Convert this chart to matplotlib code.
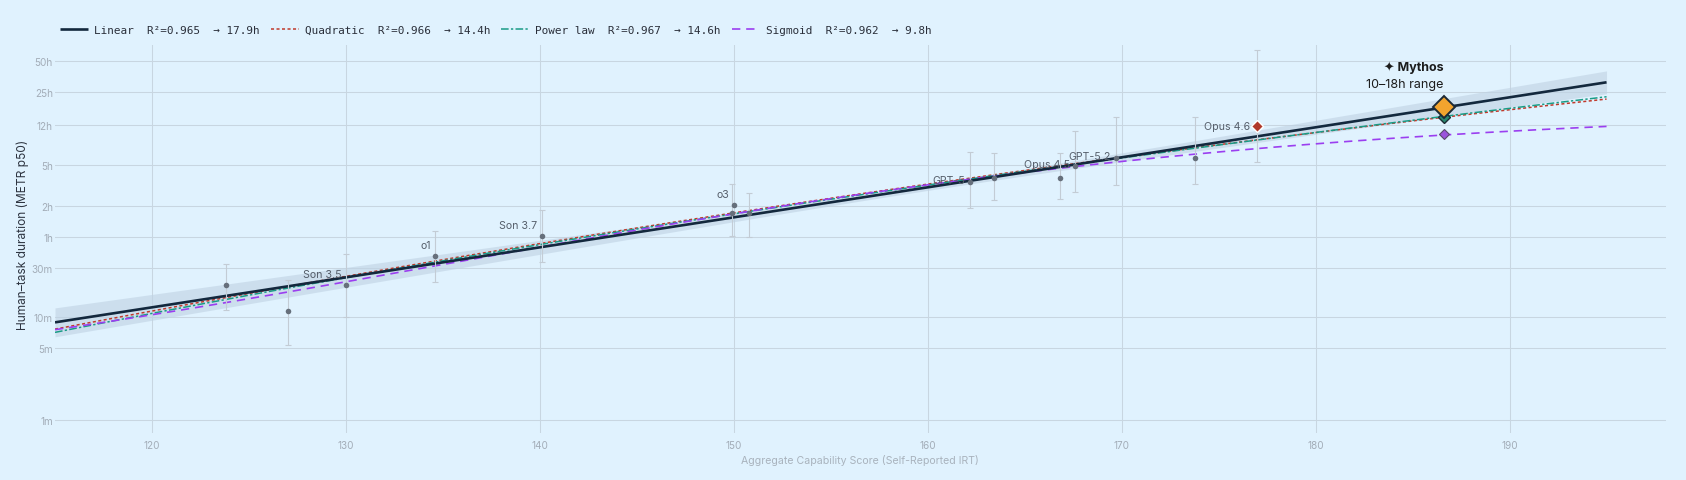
import numpy as np
import matplotlib
matplotlib.use("Agg")
import matplotlib.pyplot as plt
from matplotlib.font_manager import FontProperties

plt.rcParams['font.family'] = ['Inter', 'DejaVu Sans']

# ---------------- data ----------------
# observed models: capability score (x), METR p50 horizon in minutes, error bar lo/hi (minutes)
pt_x = [123.8, 127.0, 130.0, 134.6, 140.1, 150.0, 149.9, 150.8, 162.2, 163.4, 166.8, 167.6, 169.7, 173.8]
pt_min = [20.4, 11.5, 20.6, 39, 61, 121, 101, 101, 205, 224, 224, 292, 349, 349]
pt_lo = [11.7, 5.4, 10.0, 21.7, 33.9, np.nan, 60.5, 60, 114, 136, 138, 163, 190, 193]
pt_hi = [33, 22.8, 40.8, 67.7, 109, np.nan, 193, 158, 399, 391, 385, 638, 860, 860]
pt_label = ["", "", "Son 3.5", "o1", "Son 3.7", "o3", "", "", "GPT-5", "", "", "Opus 4.5", "GPT-5.2", ""]

# Opus 4.6 (highlighted)
opus46_x, opus46_min, opus46_lo, opus46_hi = 177.0, 713, 318, 3882
opus46_label = "Opus 4.6"

# Mythos predictions
mythos_x = 186.6
fit_names = ["Linear", "Quadratic", "Power law", "Sigmoid"]
fit_r2 = [0.965, 0.966, 0.967, 0.962]
fit_pred_h = [17.9, 14.4, 14.6, 9.8]

# fit parameters (log10 minutes)
lin_a, lin_b = 0.949, 0.02906            # log10 y = a + b (x-115)
quad_c0, quad_c1, quad_c2 = 2.151, 0.02785, -9.6e-5   # around x=155
pow_logA, pow_p = -19.652, 9.95          # y = A x^p
sig_lo, sig_hi, sig_k, sig_x0 = 0.0, 3.05, 0.0443, 135.45
ci_h0, ci_k, ci_xc = 0.03, 0.00304, 160.0
fit_x_range = (115, 195)

yticks_min = [1, 5, 10, 30, 60, 120, 300, 720, 1500, 3000]
yticks_lab = ["1m", "5m", "10m", "30m", "1h", "2h", "5h", "12h", "25h", "50h"]
xticks = [120, 130, 140, 150, 160, 170, 180, 190]

# ---------------- style ----------------
BG = "#e0f2fe"
GRID = "#c8d6e1"
TICK = "#a3adb8"
C_LIN = "#13283d"
C_QUAD = "#c0392b"
C_POW = "#1a9b86"
C_SIG = "#9b3ff0"
W, H = 1686, 481

fig = plt.figure(figsize=(W / 100, H / 100), dpi=100)
fig.patch.set_facecolor(BG)
ax = fig.add_axes([55 / W, 1 - 434 / H, (1665.7 - 55) / W, (434 - 46) / H])
ax.set_facecolor(BG)
ax.set_yscale("log")
ax.set_xlim(115, 198.05)
ax.set_ylim(0.754, 4316)

xs = np.linspace(fit_x_range[0], fit_x_range[1], 300)
lin = lin_a + lin_b * (xs - 115)
quad = quad_c0 + quad_c1 * (xs - 155) + quad_c2 * (xs - 155) ** 2
powl = pow_logA + pow_p * np.log10(xs)
sig = sig_lo + (sig_hi - sig_lo) / (1 + np.exp(-sig_k * (xs - sig_x0)))
hw = np.sqrt(ci_h0 ** 2 + (ci_k * (xs - ci_xc)) ** 2)

ax.fill_between(xs, 10 ** (lin - hw), 10 ** (lin + hw), color="#bfd2e3", alpha=0.6, lw=0, zorder=1)
h_lin, = ax.plot(xs, 10 ** lin, color=C_LIN, lw=1.9, zorder=3, solid_capstyle="butt")
h_quad, = ax.plot(xs, 10 ** quad, color=C_QUAD, lw=1.1, ls=(0, (2, 1.6)), zorder=2)
h_pow, = ax.plot(xs, 10 ** powl, color=C_POW, lw=1.1, ls=(0, (5, 1.5, 1.5, 1.5)), zorder=2)
h_sig, = ax.plot(xs, 10 ** sig, color=C_SIG, lw=1.2, ls=(0, (5, 3.5)), zorder=2)

# points with error bars
px = np.array(pt_x); pm = np.array(pt_min)
lo = np.array(pt_lo); hi = np.array(pt_hi)
ok = ~np.isnan(lo)
ax.errorbar(px[ok], pm[ok], yerr=[pm[ok] - lo[ok], hi[ok] - pm[ok]], fmt="none",
            ecolor="#c3ccd5", elinewidth=0.8, capsize=2.5, capthick=0.8, zorder=3)
ax.errorbar([opus46_x], [opus46_min], yerr=[[opus46_min - opus46_lo], [opus46_hi - opus46_min]],
            fmt="none", ecolor="#c3ccd5", elinewidth=0.8, capsize=2.5, capthick=0.8, zorder=3)
ax.plot(px, pm, "o", color="#666f7b", ms=4, mec="none", zorder=4)
ax.plot([opus46_x], [opus46_min], "D", color="#b0392b", ms=6, mec="white", mew=1, zorder=5)

top_left = {"Son 3.5", "o1", "Son 3.7", "o3"}
for x, m, lab in zip(pt_x, pt_min, pt_label):
    if not lab:
        continue
    off = (-3.2, 8) if lab in top_left else (-3.5, 1)
    ax.annotate(lab, (x, m), xytext=off, textcoords="offset points", ha="right", va="center",
                fontsize=7.6, color="#555e6a", zorder=6)
ax.annotate(opus46_label, (opus46_x, opus46_min), xytext=(-5.5, 0), textcoords="offset points",
            ha="right", va="center", fontsize=7.6, color="#555e6a", zorder=6)

# Mythos predictions
pred_min = [h * 60 for h in fit_pred_h]
ax.plot([mythos_x], [pred_min[3]], "D", color="#9b55dc", ms=5.4, mec="#5b4a6e", mew=0.8, zorder=5)
ax.plot([mythos_x], [pred_min[1]], "D", color=C_QUAD, ms=5.4, mec="#333", mew=0.8, zorder=5)
ax.plot([mythos_x], [pred_min[2]], "D", color="#2a8770", ms=5.8, mec="#1d2b33", mew=1.0, zorder=6)
ax.plot([mythos_x], [pred_min[0]], "D", color="#f3a42e", ms=11, mec="#1d2a36", mew=1.4, zorder=7)
ax.annotate("✦ Mythos", (mythos_x, pred_min[0]), xytext=(0, 29.5), textcoords="offset points",
            ha="right", va="center", fontsize=9, fontweight="bold", color="#1c1c1c", zorder=8)
ax.annotate("10–18h range", (mythos_x, pred_min[0]), xytext=(0, 16.8), textcoords="offset points",
            ha="right", va="center", fontsize=9, color="#1c1c1c", zorder=8)

# axes styling
ax.set_yticks(yticks_min)
ax.set_yticklabels(yticks_lab)
ax.yaxis.set_minor_locator(matplotlib.ticker.NullLocator())
ax.set_xticks(xticks)
ax.grid(True, color=GRID, lw=0.75)
ax.set_axisbelow(True)
for s in ax.spines.values():
    s.set_visible(False)
ax.tick_params(axis="both", length=0, colors=TICK, labelsize=7.2)
ax.tick_params(axis="y", pad=1.5)
ax.tick_params(axis="x", pad=5)

fig.text(23 / W, 1 - 235 / H, "Human–task duration (METR p50)", rotation=90, ha="center", va="center",
         fontsize=8.6, color="#2d3440")
fig.text(860 / W, 1 - 461 / H, "Aggregate Capability Score (Self-Reported IRT)", ha="center", va="center",
         fontsize=7.6, color="#a9b3bd")

labels = [f"{n}  R²={r:.3f}  → {p}h" for n, r, p in zip(fit_names, fit_r2, fit_pred_h)]
leg = fig.legend([h_lin, h_quad, h_pow, h_sig], labels, loc="center left",
                 bbox_to_anchor=(60 / W, 1 - 30.6 / H), ncol=4, frameon=False,
                 prop=FontProperties(family="DejaVu Sans Mono", size=7.9),
                 handlelength=2.55, handletextpad=0.55, columnspacing=1.0,
                 borderpad=0, borderaxespad=0)
for t in leg.get_texts():
    t.set_color("#2a2f3a")

fig.savefig("out.png", dpi=100, facecolor=BG)
